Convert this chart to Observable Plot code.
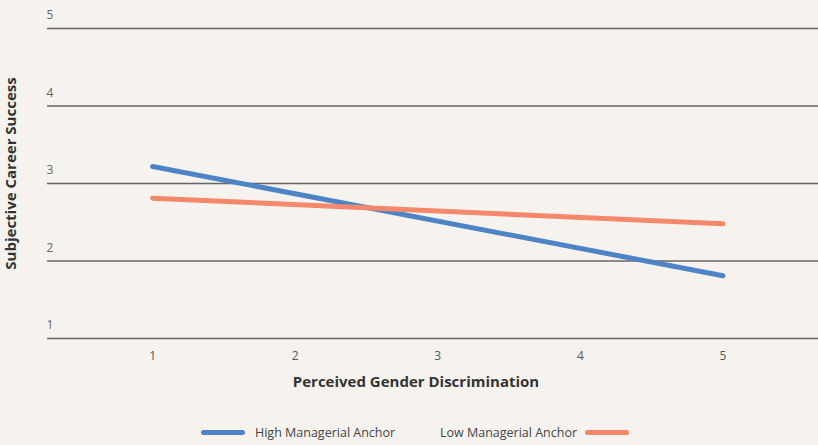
<!DOCTYPE html>
<html>
<head>
<meta charset="utf-8">
<script src="https://cdn.jsdelivr.net/npm/d3@7"></script>
<script src="https://cdn.jsdelivr.net/npm/@observablehq/plot@0.6"></script>
<style>
  html, body { margin: 0; padding: 0; background: #f6f3ef; }
  #chart { width: 818px; height: 445px; font-family: "Open Sans", "Noto Sans", sans-serif; }
  .legend { position: relative; height: 35px; }
  .legend .item { position: absolute; top: 9px; display: flex; align-items: center; font-size: 12.5px; color: #444; height: 26px; }
  .legend .sw { display: inline-block; width: 44px; height: 5px; border-radius: 3px; }
</style>
</head>
<body>
<div id="chart"></div>
<script>
const xValues = [1, 5];
const seriesNames = ["High Managerial Anchor", "Low Managerial Anchor"];
const highValues = [3.22, 1.81];
const lowValues = [2.81, 2.48];
const yTicks = [1, 2, 3, 4, 5];
const xTicks = [1, 2, 3, 4, 5];
const colors = ["#4e84c6", "#f5876a"];

const data = [
  ...xValues.map((x, i) => ({x, y: highValues[i], s: seriesNames[0]})),
  ...xValues.map((x, i) => ({x, y: lowValues[i], s: seriesNames[1]}))
];

const plot = Plot.plot({
  width: 818,
  height: 410,
  marginLeft: 47,
  marginRight: 0,
  marginTop: 28,
  marginBottom: 72,
  style: { background: "#f6f3ef", fontFamily: "'Open Sans', 'Noto Sans', sans-serif" },
  x: { domain: [0.263, 5.67], label: null },
  y: { domain: [1, 5], label: null },
  color: { domain: seriesNames, range: colors },
  marks: [
    Plot.ruleY(yTicks, { stroke: "#666", strokeWidth: 1.4 }),
    Plot.axisY(yTicks, { tickSize: 0, tickPadding: 0, textAnchor: "start", dx: -1, dy: -13, fontSize: 12, fill: "#666", label: null, tickFormat: "d" }),
    Plot.axisX(xTicks, { tickSize: 0, tickPadding: 13, fontSize: 12, fill: "#555", label: null, tickFormat: "d" }),
    Plot.line(data, { x: "x", y: "y", z: "s", stroke: "s", strokeWidth: 5, strokeLinecap: "round" }),
    Plot.text(["Perceived Gender Discrimination"], { frameAnchor: "bottom", textAnchor: "middle", lineAnchor: "middle", dx: -17, dy: 44, fontSize: 15, fontWeight: "bold", fill: "#333" }),
    Plot.text(["Subjective Career Success"], { frameAnchor: "left", textAnchor: "middle", lineAnchor: "middle", rotate: -90, dx: -36, dy: -10, fontSize: 15, fontWeight: "bold", fill: "#333" })
  ]
});

const chart = document.getElementById("chart");
chart.appendChild(plot);

const legend = document.createElement("div");
legend.className = "legend";
legend.innerHTML = `
  <div class="item" style="left:201px"><span class="sw" style="background:${colors[0]}"></span><span style="margin-left:10px">${seriesNames[0]}</span></div>
  <div class="item" style="left:440px"><span>${seriesNames[1]}</span><span class="sw" style="background:${colors[1]};margin-left:8px"></span></div>
`;
chart.appendChild(legend);
</script>
</body>
</html>
